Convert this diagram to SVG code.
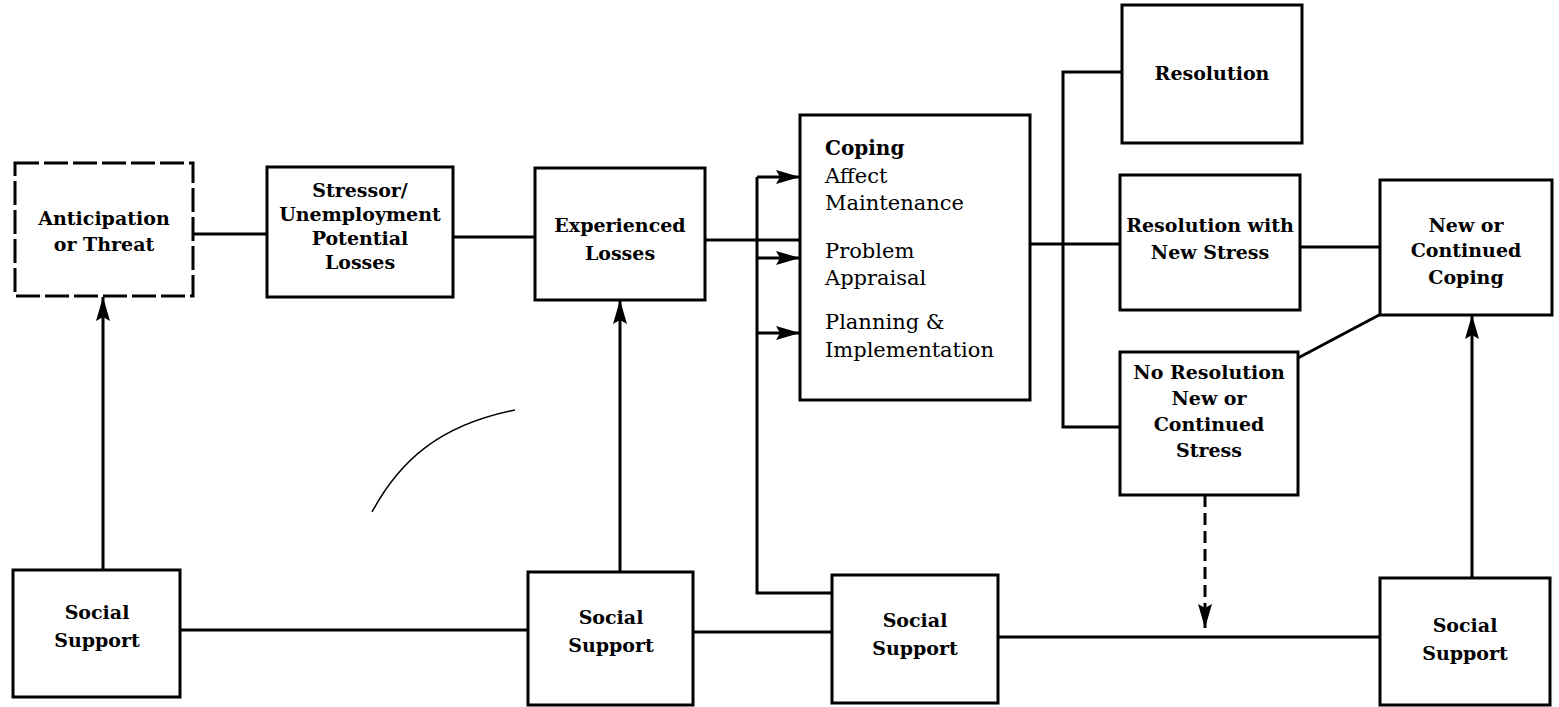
<svg xmlns="http://www.w3.org/2000/svg" width="1559" height="707" viewBox="0 0 1559 707">
<defs>
<style>
.box{fill:#fff;stroke:#000;stroke-width:3}
.dbox{fill:#fff;stroke:#000;stroke-width:3;stroke-dasharray:24 5}
.ln{fill:none;stroke:#000;stroke-width:3}
.dln{fill:none;stroke:#000;stroke-width:3;stroke-dasharray:12 6}
.b{font-family:"DejaVu Serif","Liberation Serif",serif;font-weight:bold;font-size:19px;fill:#000;text-anchor:middle}
.r{font-family:"DejaVu Serif","Liberation Serif",serif;font-size:21px;fill:#000}
.rb{font-family:"DejaVu Serif","Liberation Serif",serif;font-weight:bold;font-size:20px;fill:#000}
</style>
<marker id="ah" viewBox="0 0 24 14" refX="24" refY="7" markerWidth="24" markerHeight="14" markerUnits="userSpaceOnUse" orient="auto">
<path d="M0,0 L24,7 L0,14 L4,7 Z" fill="#000"/>
</marker>
</defs>
<rect width="1559" height="707" fill="#fff"/>
<g id="connectors">
<line class="ln" x1="193" y1="234" x2="267" y2="234"/>
<line class="ln" x1="453" y1="237" x2="535" y2="237"/>
<line class="ln" x1="705" y1="240" x2="800" y2="240"/>
<polyline class="ln" points="832,593 757,593 757,177"/>
<line class="ln" x1="757" y1="177" x2="800" y2="177" marker-end="url(#ah)"/>
<line class="ln" x1="757" y1="258" x2="800" y2="258" marker-end="url(#ah)"/>
<line class="ln" x1="757" y1="333" x2="800" y2="333" marker-end="url(#ah)"/>
<line class="ln" x1="1030" y1="244" x2="1120" y2="244"/>
<polyline class="ln" points="1122,72 1063,72 1063,427 1120,427"/>
<line class="ln" x1="1300" y1="247" x2="1380" y2="247"/>
<line class="ln" x1="1298" y1="358" x2="1381" y2="314"/>
<line class="dln" x1="1205" y1="495" x2="1205" y2="628" marker-end="url(#ah)"/>
<line class="ln" x1="1472" y1="578" x2="1472" y2="315" marker-end="url(#ah)"/>
<line class="ln" x1="103" y1="570" x2="103" y2="297" marker-end="url(#ah)"/>
<line class="ln" x1="620" y1="572" x2="620" y2="300" marker-end="url(#ah)"/>
<line class="ln" x1="180" y1="630" x2="528" y2="630"/>
<line class="ln" x1="693" y1="632" x2="832" y2="632"/>
<line class="ln" x1="998" y1="637" x2="1380" y2="637"/>
</g>
<g id="anticipation">
<rect class="dbox" x="15" y="163" width="178" height="133"/>
<text class="b" x="104" y="225">Anticipation</text>
<text class="b" x="104" y="251">or Threat</text>
</g>
<g id="stressor">
<rect class="box" x="267" y="167" width="186" height="130"/>
<text class="b" x="360" y="197">Stressor/</text>
<text class="b" x="360" y="221">Unemployment</text>
<text class="b" x="360" y="245">Potential</text>
<text class="b" x="360" y="269">Losses</text>
</g>
<g id="experienced">
<rect class="box" x="535" y="168" width="170" height="132"/>
<text class="b" x="620" y="232">Experienced</text>
<text class="b" x="620" y="260">Losses</text>
</g>
<g id="coping">
<rect class="box" x="800" y="115" width="230" height="285"/>
<text class="rb" x="825" y="155">Coping</text>
<text class="r" x="825" y="183">Affect</text>
<text class="r" x="825" y="210">Maintenance</text>
<text class="r" x="825" y="258">Problem</text>
<text class="r" x="825" y="285">Appraisal</text>
<text class="r" x="825" y="329">Planning &amp;</text>
<text class="r" x="825" y="357">Implementation</text>
</g>
<g id="resolution">
<rect class="box" x="1122" y="5" width="180" height="138"/>
<text class="b" x="1212" y="80">Resolution</text>
</g>
<g id="resolution-new-stress">
<rect class="box" x="1120" y="175" width="180" height="135"/>
<text class="b" x="1210" y="232" font-size="18">Resolution with</text>
<text class="b" x="1210" y="259">New Stress</text>
</g>
<g id="new-continued-coping">
<rect class="box" x="1380" y="180" width="172" height="135"/>
<text class="b" x="1466" y="232">New or</text>
<text class="b" x="1466" y="257">Continued</text>
<text class="b" x="1466" y="284">Coping</text>
</g>
<g id="no-resolution">
<rect class="box" x="1120" y="352" width="178" height="143"/>
<text class="b" x="1209" y="379" font-size="18">No Resolution</text>
<text class="b" x="1209" y="405">New or</text>
<text class="b" x="1209" y="431">Continued</text>
<text class="b" x="1209" y="457">Stress</text>
</g>
<g id="social-support-1">
<rect class="box" x="13" y="570" width="167" height="127"/>
<text class="b" x="97" y="619">Social</text>
<text class="b" x="97" y="647">Support</text>
</g>
<g id="social-support-2">
<rect class="box" x="528" y="572" width="165" height="133"/>
<text class="b" x="611" y="624">Social</text>
<text class="b" x="611" y="652">Support</text>
</g>
<g id="social-support-3">
<rect class="box" x="832" y="575" width="166" height="128"/>
<text class="b" x="915" y="627">Social</text>
<text class="b" x="915" y="655">Support</text>
</g>
<g id="social-support-4">
<rect class="box" x="1380" y="578" width="170" height="127"/>
<text class="b" x="1465" y="632">Social</text>
<text class="b" x="1465" y="660">Support</text>
</g>
<path d="M372,512 C400,460 440,425 515,410" fill="none" stroke="#000" stroke-width="1.5"/>
</svg>
